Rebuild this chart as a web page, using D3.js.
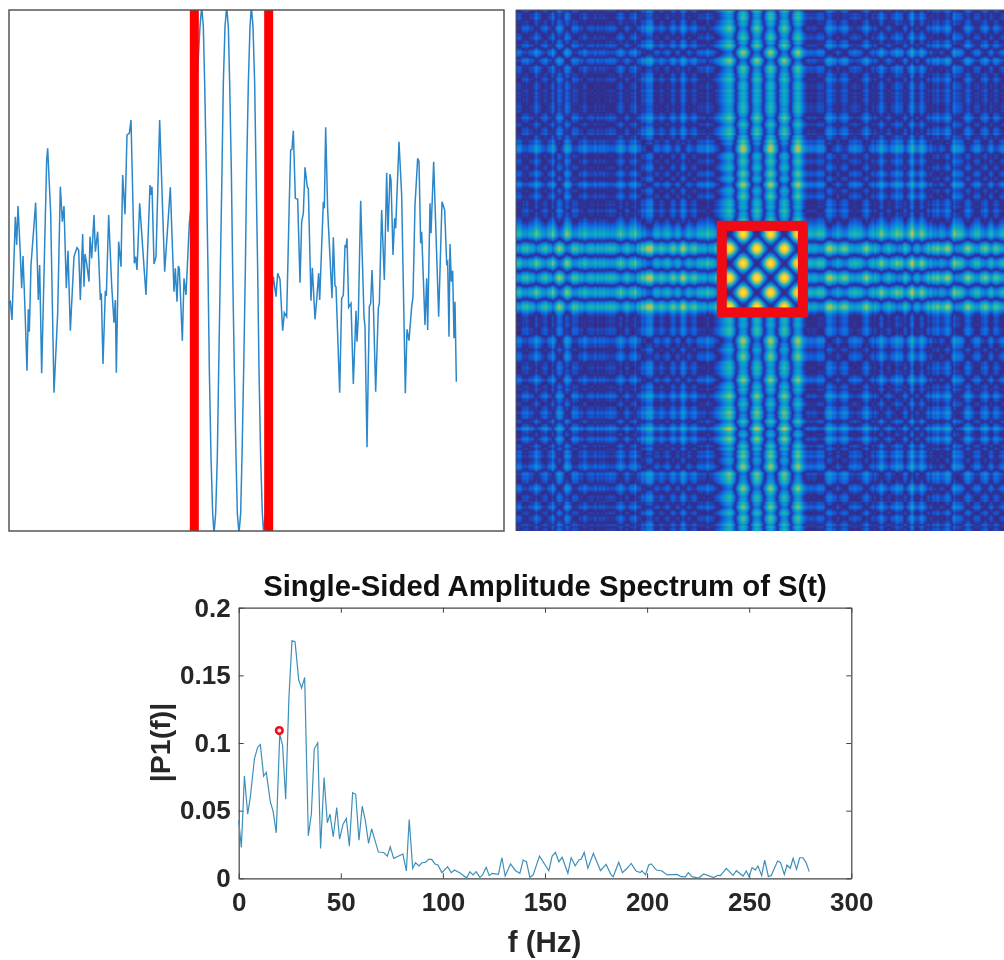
<!DOCTYPE html>
<html>
<head>
<meta charset="utf-8">
<script src="https://cdn.jsdelivr.net/npm/d3@7"></script>
<style>
  html, body { margin: 0; padding: 0; background: #fff; }
  #wrap { position: relative; width: 1004px; height: 960px; overflow: hidden; }
  #heat { position: absolute; left: 516px; top: 10px; }
  svg { position: absolute; left: 0; top: 0; }
  text { font-family: "Liberation Sans", Arial, sans-serif; font-weight: bold; }
</style>
</head>
<body>
<div id="wrap">
  <canvas id="heat" width="488" height="521"></canvas>
  <svg id="chart" width="1004" height="960"></svg>
</div>
<script>
// Signal (no axes there, so arbitrary units)
const signalT = [
    0,4,9,19,23,27,33,38,42,47,54,58,61,66,80,88,92,98,113,116,125,135,146,154,160,165,172,177,184,195,
    204,209,214,221,225,228,233,240,243,248,255,259,266,274,277,282,289,292,299,308,315,319,322,329,336,
    341,348,354,361,366,376,380,384,392,406,411,423,426,429,435,441,452,467,484,495,499,504,508,511,520,525,531,541,
    547,553,558,563,568,573,
    578,583,587,592,597,601,606,611,615,620,625,629,634,639,643,648,653,658,662,667,671,676,681,685,690,695,699,704,709,713,718,723,
    727,732,737,741,746,750,755,760,764,769,774,779,785,
    793,801,806,813,821,826,833,841,845,849,853,859,866,873,878,883,888,895,898,906,910,918,923,929,932,943,946,950,956,969,973,978,981,
    992,998,1003,1008,1011,1014,1019,1026,1033,1041,1044,1048,1055,1065,1068,1074,1081,1085,1089,1093,1100,1108,1111,1118,1126,1133,1137,
    1143,1146,1152,1157,1160,1170,1178,1189,1194,1200,1208,1212,1218,1226,1230,1235,1238,1248,1253,1256,1263,1266,1274,1289,1299,1307,
    1313,1316,1320,1323,1327,1331,1335,1338,1342
];
const signalA = [
    -100,-95,-150,160,75,192,70,-55,42,-90,-302,-118,-185,15,202,-90,15,-310,330,365,170,-368,-130,250,145,192,-55,58,-182,40,
    67,60,-90,108,-50,48,20,-35,100,35,165,55,115,-90,-70,-282,-62,-78,165,-45,-158,-90,-308,85,10,
    285,167,405,410,450,20,40,0,200,-5,-75,255,225,250,18,40,450,-5,248,-65,5,-95,12,5,-212,-25,-75,140,
    200,330,430,540,640,730,
    790,730,560,300,0,-300,-560,-730,-790,-730,-560,-300,0,300,560,730,790,730,560,300,0,-300,-560,-730,-790,-730,-560,-300,0,300,560,730,
    790,730,560,300,0,-300,-560,-730,-790,-730,-500,-300,-120,
    -20,-80,-10,-28,-182,-128,-140,210,360,362,418,215,212,-38,145,170,308,248,245,-92,7,-148,-90,-10,-90,205,185,428,180,-85,98,-48,-50,
    -368,-85,-75,72,70,95,-112,-100,-342,-122,-215,-140,208,-140,-170,-532,-110,-100,0,-100,-365,-115,-100,180,-30,292,115,
    288,270,45,155,125,385,225,-370,-178,-212,-110,-80,195,335,325,80,115,-165,-25,-180,200,110,325,-140,205,180,
    20,25,-200,78,-35,-2,-205,-95,-335
];
// Start and end of the marked window, same units as signalT
const windowT = [556, 779];

// Spectrum
const freq = [
    0,1.3,2.8,4.4,5.7,7.7,9.3,10.6,12.2,13.5,15.5,16.8,18.4,20.1,21.5,23,24.6,26.1,27.6,29.4,30.8,32.3,34.1,35.6,37,38.7,40.1,41.8,43.4,44.7,
    46.3,48,49.4,51.1,52.7,54.2,55.8,57.3,58.9,60.5,62,63.6,65.1,66.7,68.4,71,72.8,74.2,75.9,80.4,82.1,83.5,85.2,86.6,88.3,89.7,91.4,93,94.5,
    96.1,97.6,99.5,102.3,104.1,105.7,108.6,111.6,113.2,114.7,116.3,118.1,119.4,121.2,122.7,124.1,127.2,128.9,130.5,133.1,135.6,137.7,139.3,
    140.9,142.6,144.2,147.3,151.9,153.5,155.1,156.8,158.4,161.2,162.8,164.8,166.6,167.7,169.2,171,173.7,177.2,179.9,182.4,183.4,186.1,187.9,
    190.2,192.2,194.6,196.7,197.4,199.2,200.8,202,204.6,207.3,209.8,214.7,216.6,218.8,220.2,222,225.3,227.7,232.6,234.7,235.9,238.8,242.1,
    243.7,247,248.6,249.9,251.4,253,254.3,256.1,257.6,259.4,260.8,263.9,265.3,267.2,268.5,270.1,271.5,273.2,274.7,276.3,277.8,279.4
];
const amp = [
    .0429,.0228,.0756,.0474,.0601,.0883,.0969,.0989,.0756,.0783,.0564,.0498,.0336,.1067,.0982,.0584,.1337,.1757,.1747,.1465,.1406,.1485,.0314,.0479,.0957,.1001,.0221,.0744,.041,.0474,
    .0307,.0523,.029,.04,.0442,.0238,.0633,.0621,.0282,.0533,.0429,.0258,.0366,.0282,.0194,.0191,.0164,.0233,.0147,.0179,.0054,.0434,.0074,.0115,.0091,.0115,.0118,.014,.014,
    .0106,.0098,.0042,.0086,.0042,.0061,.0037,.0002,.0049,.0025,.0049,.0007,.0025,.0081,.002,.0037,.0029,.0152,.0017,.0106,.0056,.0037,.0135,
    .0123,.0007,.0025,.0164,.0056,.0164,.0191,.0123,.0155,.0037,.0152,.0093,.0135,.014,.0191,.0074,.0184,.0056,.0103,.0025,.0012,.0118,.0042,
    .0074,.011,.0054,.0042,.0056,.0025,.0098,.0106,.0061,.0054,.0025,.0029,.0012,.001,.0042,.0012,.0002,.0032,.0005,.0022,.002,.0074,.0022,
    .0056,.0017,.0054,.0012,.0079,.0061,.0091,.002,.0135,.0012,.002,.0128,.0118,.0029,.0098,.0074,.0147,.0066,.0152,.0152,.0118,.0049
];
const marker = { f: 19.9, p: 0.1092 };
const freqTicks = [0, 50, 100, 150, 200, 250, 300];
const ampTicks = [0, 0.05, 0.1, 0.15, 0.2];

// MATLAB parula, sampled
const parula = ['#352a87', '#0f5cdd', '#1481d6', '#06a4ca', '#2eb7a4', '#87bf77', '#d1bb59', '#fec832', '#f9fb0e'];

const svg = d3.select('#chart');

// ---- top left: signal with the two red bars ----
const sig = { left: 9, right: 504, top: 10, bottom: 531 };
const sigX = d3.scaleLinear().domain([0, 1485]).range([sig.left, sig.right]);
const sigY = d3.scaleLinear().domain([-783, 780]).range([sig.bottom, sig.top]);

svg.append('clipPath').attr('id', 'sigClip').append('rect')
    .attr('x', sig.left).attr('y', sig.top)
    .attr('width', sig.right - sig.left).attr('height', sig.bottom - sig.top);

svg.append('path')
    .datum(d3.range(signalT.length))
    .attr('clip-path', 'url(#sigClip)')
    .attr('fill', 'none')
    .attr('stroke', '#2b87c9')
    .attr('stroke-width', 1.5)
    .attr('d', d3.line().x(i => sigX(signalT[i])).y(i => sigY(signalA[i])));

svg.selectAll('.bar').data(windowT).enter().append('rect')
    .attr('class', 'bar')
    .attr('x', d => sigX(d) - 4.5)
    .attr('y', sig.top)
    .attr('width', 9)
    .attr('height', sig.bottom - sig.top)
    .attr('fill', '#ff0000');

svg.append('rect')
    .attr('x', sig.left).attr('y', sig.top)
    .attr('width', sig.right - sig.left).attr('height', sig.bottom - sig.top)
    .attr('fill', 'none').attr('stroke', '#555').attr('stroke-width', 1.5);

// ---- top right: distance matrix of the same signal ----
const heat = { left: 516, top: 10, width: 488, height: 521 };
const signalAt = d3.scaleLinear().domain(signalT).range(signalA).clamp(true);
const heatMax = 1600;
const heatPos = d3.scalePow().exponent(1.25).domain([0, heatMax]).range([0, 1]).clamp(true);
const heatColor = d3.scaleLinear()
    .domain(parula.map((c, i) => i / (parula.length - 1)))
    .range(parula)
    .interpolate(d3.interpolateRgb)
    .clamp(true);

// the matrix image starts a few pixels right of the panel edge in the reference
const heatColT = d3.scaleLinear().domain([519.6, 519.6 + 488]).range([0, 1342]);
const heatRowT = d3.scaleLinear().domain([heat.top, heat.top + 521]).range([0, 1342]);

const cols = 305, rows = 326;
const small = document.createElement('canvas');
small.width = cols;
small.height = rows;
const sctx = small.getContext('2d');
d3.range(rows).forEach(r => {
    const ar = signalAt(heatRowT(heat.top + (r + 0.5) / rows * heat.height));
    d3.range(cols).forEach(c => {
        const ac = signalAt(heatColT(heat.left + (c + 0.5) / cols * heat.width));
        sctx.fillStyle = heatColor(heatPos(Math.abs(ar - ac)));
        sctx.fillRect(c, r, 1, 1);
    });
});
const ctx = d3.select('#heat').node().getContext('2d');
ctx.imageSmoothingEnabled = true;
ctx.imageSmoothingQuality = 'high';
ctx.filter = 'blur(0.7px)';
ctx.drawImage(small, -3, -3, heat.width + 6, heat.height + 6);
ctx.filter = 'none';

// red square over the window, same bounds as the bars
svg.append('rect')
    .attr('x', heatColT.invert(windowT[0]))
    .attr('y', heatRowT.invert(windowT[0]))
    .attr('width', heatColT.invert(windowT[1]) - heatColT.invert(windowT[0]))
    .attr('height', heatRowT.invert(windowT[1]) - heatRowT.invert(windowT[0]))
    .attr('fill', 'none')
    .attr('stroke', '#f00a14')
    .attr('stroke-width', 10);

svg.append('path')
    .attr('d', `M${heat.left},${heat.top + heat.height}V${heat.top}H${heat.left + heat.width}`)
    .attr('fill', 'none').attr('stroke', '#555').attr('stroke-width', 1);

// ---- bottom: amplitude spectrum ----
const sp = { left: 238.7, right: 851.3, top: 607.7, bottom: 878.3 };
const x = d3.scaleLinear().domain([0, 300]).range([sp.left, sp.right]);
const y = d3.scaleLinear().domain([0, 0.2]).range([sp.bottom, sp.top]);

const styleAxis = g => {
    g.selectAll('.domain').attr('stroke', '#444').attr('stroke-width', 1.2);
    g.selectAll('.tick line').attr('stroke', '#444').attr('stroke-width', 1);
    g.selectAll('.tick text')
        .attr('fill', '#262626')
        .style('font-size', '26px');
};

svg.append('g').attr('transform', `translate(0,${sp.bottom})`)
    .call(d3.axisBottom(x).tickValues(freqTicks).tickSizeInner(-5).tickSizeOuter(0).tickPadding(14))
    .call(styleAxis);
svg.append('g').attr('transform', `translate(${sp.left},0)`)
    .call(d3.axisLeft(y).tickValues(ampTicks).tickFormat(d => d).tickSizeInner(-5).tickSizeOuter(0).tickPadding(8))
    .call(styleAxis);
svg.append('g').attr('transform', `translate(0,${sp.top})`)
    .call(d3.axisTop(x).tickValues(freqTicks).tickFormat('').tickSizeInner(-5).tickSizeOuter(0))
    .call(styleAxis);
svg.append('g').attr('transform', `translate(${sp.right},0)`)
    .call(d3.axisRight(y).tickValues(ampTicks).tickFormat('').tickSizeInner(-5).tickSizeOuter(0))
    .call(styleAxis);

svg.append('path')
    .datum(d3.range(freq.length))
    .attr('fill', 'none')
    .attr('stroke', '#3d8fb8')
    .attr('stroke-width', 1.2)
    .attr('d', d3.line().x(i => x(freq[i])).y(i => y(amp[i])));

svg.append('circle')
    .attr('cx', x(marker.f)).attr('cy', y(marker.p)).attr('r', 3.3)
    .attr('fill', '#ffe8e8').attr('stroke', '#e8101c').attr('stroke-width', 2.6);

svg.append('text')
    .attr('x', 545).attr('y', 596)
    .attr('text-anchor', 'middle').attr('fill', '#111')
    .style('font-size', '29.3px')
    .text('Single-Sided Amplitude Spectrum of S(t)');

svg.append('text')
    .attr('x', 544.5).attr('y', 952)
    .attr('text-anchor', 'middle').attr('fill', '#262626')
    .style('font-size', '29.5px')
    .text('f (Hz)');

svg.append('text')
    .attr('transform', 'translate(169.5,742.5) rotate(-90)')
    .attr('text-anchor', 'middle').attr('fill', '#262626')
    .style('font-size', '28.5px')
    .text('|P1(f)|');
</script>
</body>
</html>
